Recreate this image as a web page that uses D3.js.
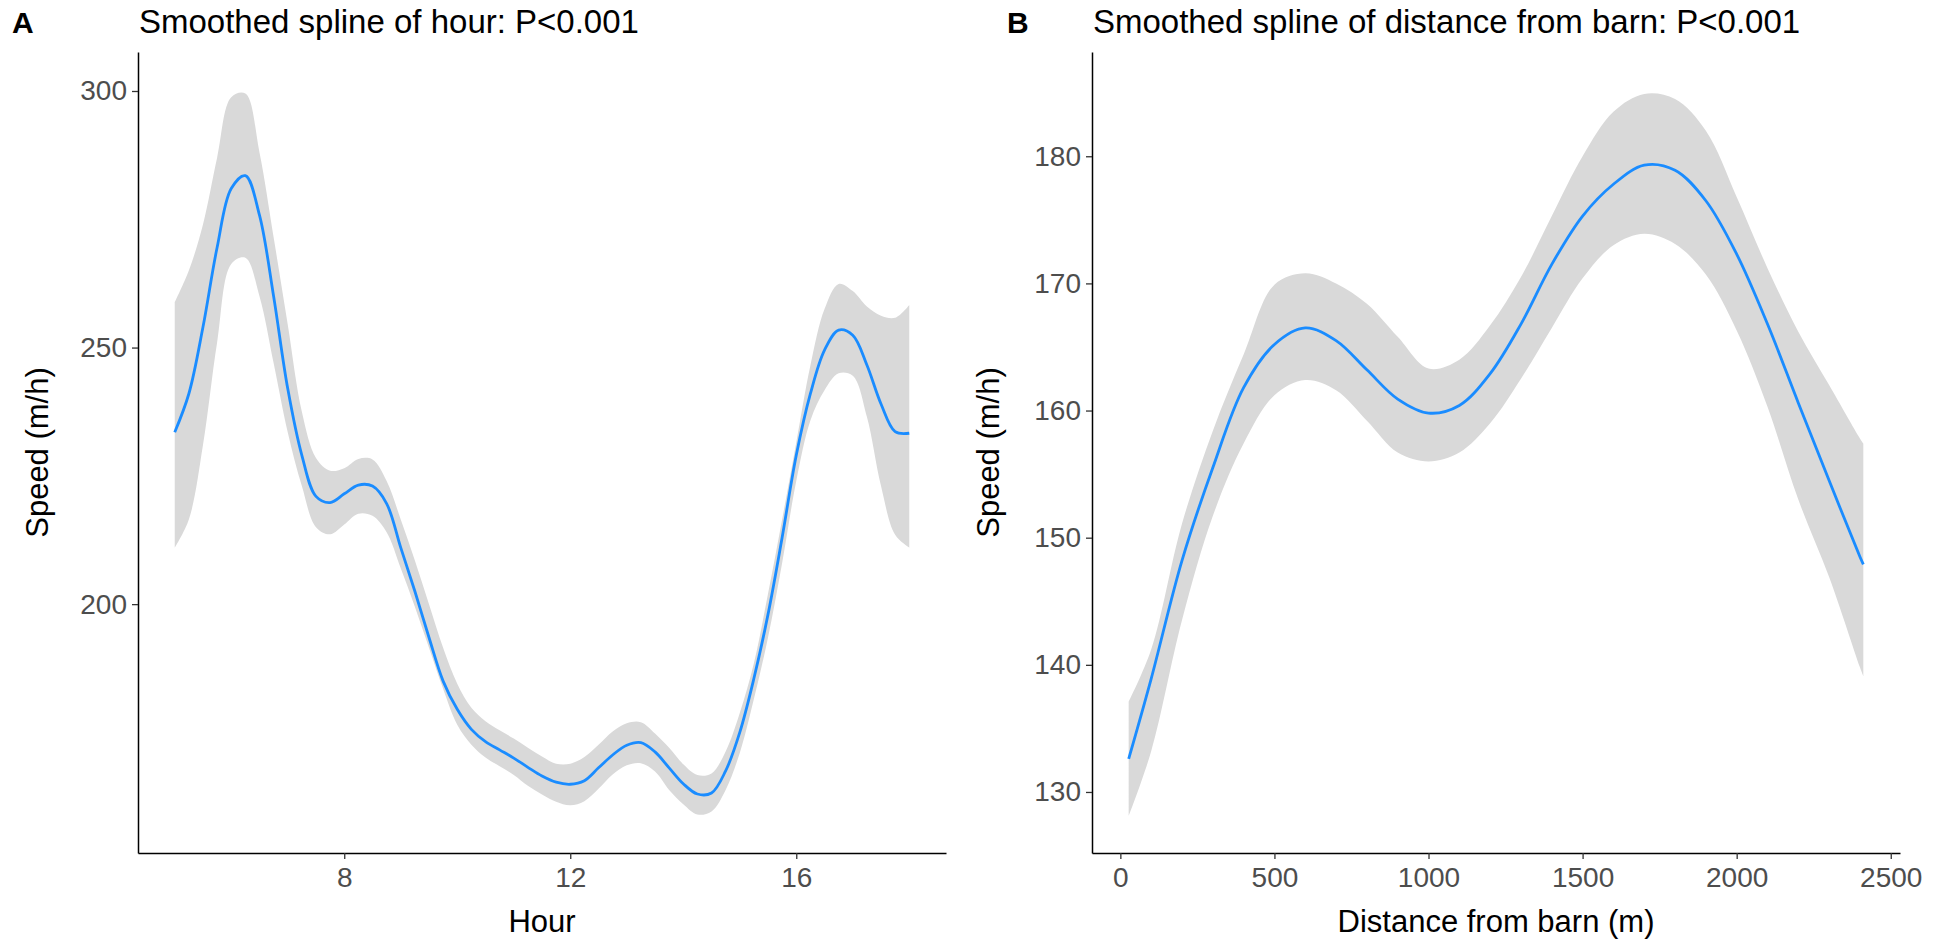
<html>
<head>
    <meta charset="utf-8">
    <!-- Load d3.js -->
    <script src="https://d3js.org/d3.v7.min.js"></script>
    <style>
      body { margin: 0; background: #fff; }
      text { font-family: "Liberation Sans", Arial, sans-serif; }
    </style>
</head>
<body>
    <div id="my_dataviz"></div>

<script>

    // ---- panel A : speed by hour (fit + 95% band) ----
    const hours = [5, 5.25, 5.5, 5.75, 6, 6.25, 6.5, 6.75, 7, 7.25, 7.5, 7.75, 8, 8.25, 8.5, 8.75,
      9, 9.25, 9.5, 9.75, 10, 10.25, 10.5, 10.75, 11, 11.25, 11.5, 11.75, 12, 12.25, 12.5, 12.75,
      13, 13.25, 13.5, 13.75, 14, 14.25, 14.5, 14.75, 15, 15.25, 15.5, 15.75, 16, 16.25, 16.5, 16.75,
      17, 17.25, 17.5, 17.75, 18]
    const hourFit = [233.5, 241, 254, 269.5, 281, 283.5, 275.8, 260, 242, 229, 221, 219.8, 221.5, 223.2, 223, 219.6,
      211, 202.5, 193.5, 185, 179.5, 175.6, 173.2, 171.6, 170, 168.2, 166.5, 165.3, 164.9, 165.6, 168.1, 170.6,
      172.5, 173, 171.2, 168.1, 165, 163, 163.2, 167.5, 175, 185.5, 198, 213, 229, 241, 249.5, 253.4,
      252.4, 246.6, 239, 233.6, 233.3]
    const hourUpper = [258.8, 265, 274, 287, 298.8, 299.5, 288, 271.5, 254.5, 237.5, 228.5, 226, 226.5, 228.3, 228.2, 224,
      216.5, 208.5, 200, 191.5, 184.5, 179.8, 177.2, 175.4, 173.8, 172, 170.3, 168.9, 168.9, 170.2, 172.6, 175.2,
      176.8, 177, 174.8, 172, 168.8, 166.7, 167, 171.3, 178.8, 188.5, 202, 216.5, 231.5, 246.5, 257.5, 262.4,
      261, 258, 256.2, 255.8, 258.3]
    const hourLower = [211, 216.5, 231, 251, 266.3, 267.5, 260, 247, 233.5, 223, 215, 213.6, 215.5, 217.6, 217.2, 214,
      207, 199.5, 191.5, 183.5, 176.5, 172.6, 170.1, 168.4, 166.7, 164.6, 162.9, 161.5, 160.8, 161.6, 164, 166.8,
      168.6, 169, 167.4, 163.8, 161, 159, 159.6, 163.8, 171, 181.5, 193.5, 208, 224, 235.8, 241.7, 245,
      244.5, 236.5, 223, 213.5, 211]
    const hourTicks = [8, 12, 16]
    const speedTicksA = [200, 250, 300]

    // ---- panel B : speed by distance from barn ----
    const distance = [27, 100, 200, 300, 400, 500, 600, 700, 800, 900, 1000, 1100, 1200, 1300, 1400,
      1500, 1600, 1700, 1800, 1900, 2000, 2100, 2200, 2300, 2400, 2411]
    const distFit = [132.6, 138.9, 148.2, 155.5, 161.8, 165.2, 166.5, 165.5, 163.2, 160.9, 159.8, 160.4, 162.9, 166.8, 171.5,
      175.3, 177.8, 179.3, 178.9, 176.5, 172.3, 166.8, 160.6, 154.5, 148.5, 147.9]
    const distUpper = [137.1, 141.2, 151.1, 158.4, 164.4, 169.9, 170.8, 170, 168.4, 165.8, 163.3, 164, 166.7, 170.5, 175.3,
      180, 183.5, 184.9, 184.5, 182, 176.8, 171.2, 166.2, 162, 157.8, 157.4]
    const distLower = [128.1, 133.2, 143.5, 151.7, 157.4, 161.2, 162.4, 161.6, 159.2, 156.7, 156, 156.7, 159, 162.5, 166.5,
      170.4, 173, 173.9, 173.1, 170.7, 166.3, 160.3, 153, 146.9, 139.8, 139.1]
    const distTicks = [0, 500, 1000, 1500, 2000, 2500]
    const speedTicksB = [130, 140, 150, 160, 170, 180]

    const W = 1937, H = 942
    const plotTop = 52, plotBottom = 853

    const svg = d3.select("#my_dataviz")
      .append("svg")
        .attr("width", W)
        .attr("height", H)

    // one ggplot-like panel
    function panel(opt) {
      const x = d3.scaleLinear().domain(opt.xDomain).range([opt.left, opt.right])
      const y = d3.scaleLinear().domain(opt.yDomain).range([plotBottom, plotTop])

      const rows = opt.xs.map((v, i) => ({x: v, fit: opt.fit[i], lo: opt.lower[i], hi: opt.upper[i]}))

      // confidence band
      svg.append("path")
        .datum(rows)
        .attr("fill", "#d9d9d9")
        .attr("d", d3.area()
          .x(d => x(d.x))
          .y0(d => y(d.lo))
          .y1(d => y(d.hi))
          .curve(d3.curveCatmullRom))

      // fitted spline
      svg.append("path")
        .datum(rows)
        .attr("fill", "none")
        .attr("stroke", "#1a8cff")
        .attr("stroke-width", 2.8)
        .attr("d", d3.line()
          .x(d => x(d.x))
          .y(d => y(d.fit))
          .curve(d3.curveCatmullRom))

      // axes
      const gx = svg.append("g")
        .attr("transform", `translate(0, ${plotBottom})`)
        .call(d3.axisBottom(x).tickValues(opt.xTicks).tickFormat(d3.format("d"))
          .tickSize(6).tickPadding(8).tickSizeOuter(0))
      const gy = svg.append("g")
        .attr("transform", `translate(${opt.left}, 0)`)
        .call(d3.axisLeft(y).tickValues(opt.yTicks).tickFormat(d3.format("d"))
          .tickSize(6).tickPadding(5).tickSizeOuter(0))

      for (const g of [gx, gy]) {
        g.select(".domain").attr("stroke", "#000").attr("stroke-width", 1.5)
        g.selectAll(".tick line").attr("stroke", "#333").attr("stroke-width", 1.3)
        g.selectAll(".tick text")
          .attr("fill", "#4d4d4d")
          .style("font-size", "28px")
          .style("font-family", "'Liberation Sans', Arial, sans-serif")
      }

      // axis titles
      svg.append("text")
        .attr("x", (opt.left + opt.right) / 2)
        .attr("y", 932)
        .attr("text-anchor", "middle")
        .style("font-size", "31px")
        .text(opt.xLabel)
      svg.append("text")
        .attr("transform", `translate(${opt.yLabelX}, ${(plotTop + plotBottom) / 2}) rotate(-90)`)
        .attr("text-anchor", "middle")
        .attr("dy", "0.35em")
        .style("font-size", "31px")
        .text("Speed (m/h)")

      // panel title + tag
      svg.append("text")
        .attr("x", opt.left + 1)
        .attr("y", 33)
        .style("font-size", "33px")
        .text(opt.title)
      svg.append("text")
        .attr("x", opt.tagX)
        .attr("y", 33)
        .style("font-size", "30px")
        .style("font-weight", "bold")
        .text(opt.tag)
    }

    panel({
      left: 138, right: 946,
      xDomain: [4.35, 18.65], yDomain: [151.5, 307.6],
      xs: hours, fit: hourFit, upper: hourUpper, lower: hourLower,
      xTicks: hourTicks, yTicks: speedTicksA,
      xLabel: "Hour", yLabelX: 37,
      title: "Smoothed spline of hour: P<0.001",
      tag: "A", tagX: 12
    })

    panel({
      left: 1092, right: 1900,
      xDomain: [-92, 2530], yDomain: [125.2, 188.2],
      xs: distance, fit: distFit, upper: distUpper, lower: distLower,
      xTicks: distTicks, yTicks: speedTicksB,
      xLabel: "Distance from barn (m)", yLabelX: 988,
      title: "Smoothed spline of distance from barn: P<0.001",
      tag: "B", tagX: 1007
    })

</script>
</body>
</html>
